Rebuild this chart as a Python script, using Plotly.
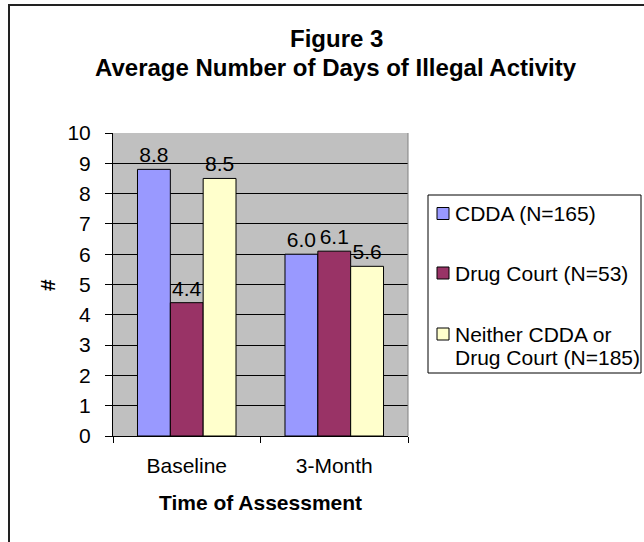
import plotly.graph_objects as go

# Chart data
categories = ["Baseline", "3-Month"]
series_names = ["CDDA (N=165)", "Drug Court (N=53)", "Neither CDDA or Drug Court (N=185)"]
cdda = [8.8, 6.0]
drug_court = [4.4, 6.1]
neither = [8.5, 5.6]
series_values = [cdda, drug_court, neither]
series_colors = ["#9999FF", "#993366", "#FFFFCC"]
legend_lines = [["CDDA (N=165)"], ["Drug Court (N=53)"], ["Neither CDDA or", "Drug Court (N=185)"]]
y_ticks = list(range(0, 11))

FONT = "Liberation Sans, Arial, sans-serif"
W, H = 644, 542
L, R, T, B = 113, 644 - 408, 133, 542 - 436
PW, PH = W - L - R, H - T - B


def px(x):
    return (x - L) / PW


def py(y):
    return (H - B - y) / PH


fig = go.Figure()
for name, vals, color in zip(series_names, series_values, series_colors):
    fig.add_trace(go.Bar(
        x=categories, y=vals, name=name,
        marker=dict(color=color, line=dict(color="black", width=1)),
        text=vals, texttemplate="%{y:.1f}", textposition="outside",
        textfont=dict(family=FONT, size=21, color="black"),
        constraintext="none", cliponaxis=False, showlegend=False,
    ))

shapes = []
annotations = []

# Outer chart frame
shapes.append(dict(type="rect", xref="paper", yref="paper",
                   x0=px(9), x1=px(700), y0=py(600), y1=py(5),
                   line=dict(color="#222222", width=2), fillcolor="rgba(0,0,0,0)",
                   layer="above"))
# Right edge of the plot area
shapes.append(dict(type="line", xref="paper", yref="paper",
                   x0=1, x1=1, y0=0, y1=1,
                   line=dict(color="#808080", width=1), layer="above"))

# Legend box
shapes.append(dict(type="rect", xref="paper", yref="paper",
                   x0=px(428), x1=px(641), y0=py(373), y1=py(195),
                   line=dict(color="black", width=1), fillcolor="white", layer="above"))
swatch_y = [213.5, 273, 334]
text_y = [[213], [273], [334, 357.5]]
for color, sy, lines, ty in zip(series_colors, swatch_y, legend_lines, text_y):
    shapes.append(dict(type="rect", xref="paper", yref="paper",
                       x0=px(437), x1=px(449), y0=py(sy + 6), y1=py(sy - 6),
                       line=dict(color="black", width=1), fillcolor=color, layer="above"))
    for line, yy in zip(lines, ty):
        annotations.append(dict(text=line, xref="paper", yref="paper",
                                x=px(453), y=py(yy), xanchor="left", yanchor="middle",
                                showarrow=False,
                                font=dict(family=FONT, size=21, color="black")))

# Titles
annotations.append(dict(text="<b>Figure 3</b>", xref="paper", yref="paper",
                        x=px(336), y=py(38), xanchor="center", yanchor="middle",
                        showarrow=False, font=dict(family=FONT, size=24, color="black")))
annotations.append(dict(text="<b>Average Number of Days of Illegal Activity</b>",
                        xref="paper", yref="paper",
                        x=px(336), y=py(68), xanchor="center", yanchor="middle",
                        showarrow=False, font=dict(family=FONT, size=24, color="black")))
annotations.append(dict(text="<b>Time of Assessment</b>", xref="paper", yref="paper",
                        x=0.5, y=py(503), xanchor="center", yanchor="middle",
                        showarrow=False, font=dict(family=FONT, size=21, color="black")))
annotations.append(dict(text="<b>#</b>", xref="paper", yref="paper",
                        x=px(47), y=py(285), xanchor="center", yanchor="middle",
                        textangle=-90, showarrow=False,
                        font=dict(family=FONT, size=21, color="black")))

fig.update_layout(
    width=W, height=H,
    margin=dict(l=L, r=R, t=T, b=B, pad=0),
    paper_bgcolor="white", plot_bgcolor="#C0C0C0",
    barmode="group", bargap=0.332, bargroupgap=0,
    font=dict(family=FONT, size=21, color="black"),
    shapes=shapes, annotations=annotations,
    showlegend=False,
)
fig.update_xaxes(
    type="category", tickson="boundaries", ticks="outside", ticklen=6,
    tickcolor="black", showline=True, linecolor="black", linewidth=1,
    showgrid=False, ticklabelstandoff=11,
    tickfont=dict(family=FONT, size=21, color="black"),
)
fig.update_yaxes(
    range=[0, 10], tickvals=y_ticks, ticks="outside", ticklen=7,
    tickcolor="black", showline=True, linecolor="black", linewidth=1,
    showgrid=True, gridcolor="black", gridwidth=1, zeroline=False,
    ticklabelstandoff=10,
    tickfont=dict(family=FONT, size=21, color="black"),
)

fig.write_html("out.html")
